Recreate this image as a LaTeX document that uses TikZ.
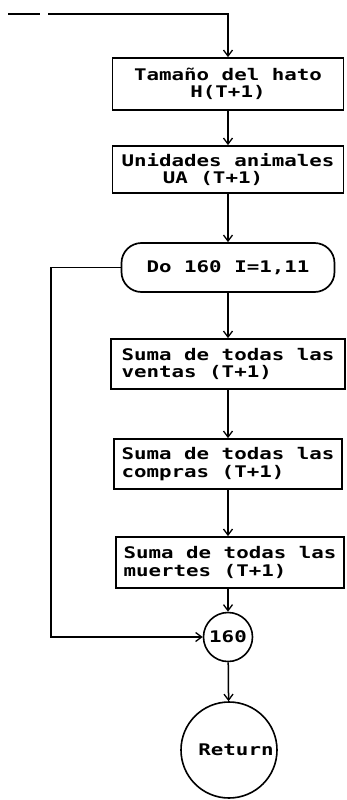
\documentclass[tikz,border=0pt]{standalone}
\usepackage{fontspec}
\newfontfamily\dotfont[FakeStretch=1.3]{DejaVu Sans Mono Bold}
\usetikzlibrary{arrows.meta}
\begin{document}
\begin{tikzpicture}[x=1pt,y=-1pt,
  every node/.style={font=\dotfont\fontsize{16}{17.5}\selectfont},
  procbox/.style={draw,line width=1.8pt,inner sep=0pt,minimum height=#1},
  termbox/.style={draw,line width=1.7pt,rounded corners=20pt,minimum width=213pt,minimum height=49pt,inner sep=0pt},
  conn/.style={draw,line width=1.5pt},
  arr/.style={conn,-{Straight Barb[length=6pt,width=9pt,line width=1.3pt]}},
  circ/.style={draw,circle,line width=1.6pt,inner sep=0pt,minimum size=#1}]
\useasboundingbox (0,0) rectangle (346,800);
\coordinate (start) at (8,14);
\coordinate (loop) at (51,0);
\node[procbox=52pt,minimum width=231pt,align=center] (b1) at (228,84) {Tamaño del hato\\H(T+1)};
\node[procbox=47pt,minimum width=231pt,align=center] (b2) at (228,169.5) {Unidades animales\\UA (T+1)\kern30pt};
\node[termbox] (do) at (228,267.5) {Do 160 I=1,11};
\node[procbox=50pt,minimum width=234pt,align=left] (b3) at (228,364) {Suma de todas las\\ventas (T+1)};
\node[procbox=50pt,minimum width=228pt,align=left] (b4) at (228,464) {Suma de todas las\\compras (T+1)};
\node[procbox=51pt,minimum width=228pt,align=left] (b5) at (230,562.5) {Suma de todas las\\muertes (T+1)};
\node[circ=49pt] (c160) at (228,637) {160};
\node[circ=96pt] (ret) at (229,750) {\kern14pt Return};
\draw[arr,dash pattern=on 32pt off 8pt on 500pt] (start) -| (b1.north);
\draw[arr] (b1) -- (b2);
\draw[arr] (b2) -- (do);
\draw[arr] (do) -- (b3);
\draw[arr] (b3) -- (b4);
\draw[arr] (b4) -- (b4 |- b5.north);
\draw[arr] (b5.south -| c160) -- (c160);
\draw[arr] (c160) -- (ret);
\draw[arr] (do.west) -- (do.west -| loop) |- (c160.west);
\end{tikzpicture}
\end{document}
